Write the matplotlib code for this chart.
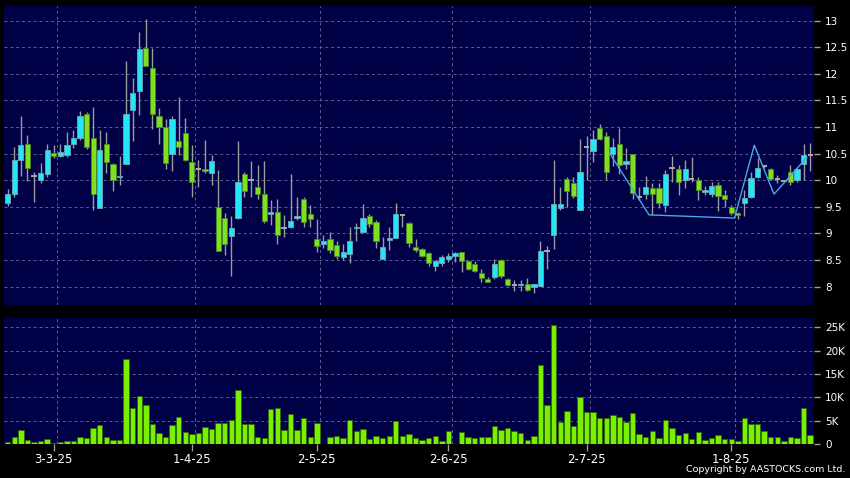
import matplotlib
matplotlib.use('Agg')
import matplotlib.pyplot as plt
import numpy as np
import pandas as pd

# ---------------- data ----------------
holidays = pd.to_datetime(['2025-04-04', '2025-04-18', '2025-04-21',
                           '2025-05-01', '2025-05-05', '2025-07-01'])
dates = pd.bdate_range('2025-02-20', '2025-08-19')
dates = dates[~dates.isin(holidays)]

open_ = [9.57, 9.74, 10.39, 10.68, 10.09, 10.00, 10.12, 10.52, 10.45, 10.47,
         10.68, 10.79, 11.25, 10.79, 9.47, 10.68, 10.31, 10.06, 10.30, 11.33,
         11.68, 12.49, 12.12, 11.21, 11.01, 10.49, 10.73, 10.88, 10.34, 10.22,
         10.22, 10.13, 9.50, 9.30, 8.95, 9.30, 10.11, 10.00, 9.88, 9.75,
         9.37, 9.41, 9.11, 9.13, 9.29, 9.65, 9.36, 8.89, 8.80, 8.90,
         8.79, 8.56, 8.61, 9.10, 9.02, 9.33, 9.21, 8.53, 8.88, 8.91,
         9.35, 9.19, 8.75, 8.70, 8.64, 8.39, 8.44, 8.53, 8.58, 8.66,
         8.49, 8.42, 8.26, 8.15, 8.19, 8.51, 8.15, 8.04, 8.03, 8.05,
         8.00, 8.02, 8.68, 8.98, 9.47, 10.02, 9.95, 9.45, 10.63, 10.55,
         10.99, 10.84, 10.49, 10.69, 10.30, 10.49, 9.69, 9.74, 9.85, 9.85,
         9.53, 10.24, 10.21, 10.00, 10.02, 10.00, 9.78, 9.74, 9.91, 9.72,
         9.49, 9.38, 9.58, 9.68, 10.07, 10.26, 10.22, 10.02, 9.99, 10.16,
         10.00, 10.31, 10.48]
high = [9.83, 10.63, 11.20, 10.85, 10.16, 10.32, 10.69, 10.66, 10.68, 10.90,
        10.94, 11.30, 11.29, 11.37, 10.94, 10.90, 10.33, 10.46, 12.24, 11.92,
        12.79, 13.03, 12.48, 11.36, 11.16, 11.20, 11.57, 11.18, 10.66, 10.38,
        10.76, 10.47, 10.19, 9.38, 9.33, 10.74, 10.15, 10.37, 10.29, 10.36,
        9.63, 9.64, 9.35, 10.12, 9.69, 9.69, 9.53, 9.28, 8.97, 9.02,
        8.86, 8.80, 9.12, 9.19, 9.55, 9.36, 9.25, 8.94, 9.12, 9.57,
        9.35, 9.22, 8.89, 8.72, 8.66, 8.50, 8.59, 8.64, 8.66, 8.66,
        8.51, 8.49, 8.34, 8.18, 8.53, 8.53, 8.17, 8.13, 8.13, 8.17,
        8.06, 8.86, 8.76, 10.38, 9.87, 10.06, 10.07, 10.77, 10.83, 10.94,
        11.05, 10.91, 10.79, 10.99, 10.60, 10.49, 9.88, 10.08, 9.95, 9.95,
        10.20, 10.46, 10.29, 10.39, 10.44, 10.07, 9.89, 9.97, 9.97, 9.82,
        9.53, 9.41, 9.82, 10.15, 10.41, 10.29, 10.23, 10.10, 10.00, 10.29,
        10.24, 10.68, 10.71]
low = [9.52, 9.69, 10.08, 9.99, 9.59, 9.955, 10.07, 10.41, 10.43, 10.43,
       10.61, 10.76, 10.59, 9.45, 9.47, 10.13, 9.80, 9.91, 10.30, 10.74,
       11.23, 12.14, 10.96, 10.69, 10.22, 10.18, 10.47, 10.36, 9.69, 9.88,
       10.13, 9.91, 8.67, 8.60, 8.20, 9.28, 9.69, 9.69, 9.65, 9.19,
       9.16, 8.80, 8.94, 9.10, 9.25, 9.12, 9.13, 8.66, 8.72, 8.63,
       8.53, 8.51, 8.45, 8.85, 9.00, 9.13, 8.72, 8.53, 8.69, 8.91,
       9.13, 8.75, 8.66, 8.55, 8.39, 8.30, 8.39, 8.46, 8.46, 8.28,
       8.32, 8.28, 8.08, 8.08, 8.14, 8.17, 8.01, 7.91, 7.91, 7.92,
       7.89, 8.02, 8.33, 8.70, 9.45, 9.49, 9.66, 9.45, 10.00, 10.35,
       10.76, 10.00, 10.26, 10.12, 10.22, 9.64, 9.63, 9.64, 9.35, 9.47,
       9.40, 9.97, 9.72, 9.86, 9.97, 9.63, 9.72, 9.69, 9.43, 9.50,
       9.35, 9.28, 9.32, 9.66, 10.04, 10.23, 10.00, 9.94, 9.96, 9.91,
       9.97, 10.00, 10.17]
close = [9.74, 10.39, 10.66, 10.24, 10.09, 10.13, 10.56, 10.45, 10.54, 10.67,
         10.79, 11.20, 10.62, 9.75, 10.56, 10.35, 10.01, 10.09, 11.24, 11.65,
         12.46, 12.14, 11.24, 11.01, 10.32, 11.16, 10.63, 10.39, 9.97, 10.22,
         10.18, 10.37, 8.67, 8.80, 9.10, 9.97, 9.80, 10.00, 9.75, 9.23,
         9.41, 8.97, 9.11, 9.23, 9.32, 9.22, 9.28, 8.76, 8.85, 8.69,
         8.58, 8.66, 8.85, 9.13, 9.30, 9.17, 8.86, 8.74, 8.91, 9.36,
         9.35, 8.83, 8.69, 8.58, 8.44, 8.49, 8.55, 8.58, 8.64, 8.49,
         8.34, 8.30, 8.16, 8.09, 8.42, 8.20, 8.04, 8.04, 8.06, 7.94,
         8.05, 8.68, 8.68, 9.55, 9.55, 9.79, 9.71, 10.15, 10.63, 10.77,
         10.77, 10.15, 10.63, 10.29, 10.36, 9.76, 9.69, 9.88, 9.74, 9.57,
         10.11, 10.24, 9.97, 10.22, 10.02, 9.82, 9.81, 9.90, 9.71, 9.64,
         9.38, 9.35, 9.66, 10.04, 10.24, 10.26, 10.02, 10.02, 9.99, 9.96,
         10.22, 10.48, 10.48]
volume_k = [0.5, 1.6, 3.1, 0.9, 0.5, 0.7, 1.1, 0.3, 0.5, 0.6,
            0.7, 1.6, 1.3, 3.4, 4.1, 1.6, 0.9, 0.8, 18.3, 7.7,
            10.3, 8.4, 4.2, 2.3, 1.5, 4.0, 5.7, 2.5, 2.2, 2.4,
            3.7, 3.2, 4.6, 4.4, 5.1, 11.6, 4.2, 4.2, 1.4, 1.2,
            7.4, 7.8, 2.9, 6.5, 3.0, 5.5, 1.4, 4.6, 0.1, 1.4,
            1.7, 1.2, 5.2, 2.7, 3.3, 1.1, 1.7, 1.3, 1.7, 5.0,
            1.7, 2.2, 1.2, 0.8,
            1.3, 1.7, 0.6, 2.7, 0.05, 2.5, 1.6, 1.3, 1.4, 1.6,
            3.9, 2.9, 3.4, 2.7, 2.4, 0.9, 1.7, 16.9, 8.3, 25.5,
            4.7, 7.1, 3.9, 10.1, 6.9, 6.8, 5.6, 5.6, 6.2, 5.7,
            4.8, 6.6, 2.2, 1.4, 2.7, 1.2, 5.2, 3.4, 1.9, 2.4,
            1.1, 2.6, 0.9, 1.2, 1.9, 1.1, 1.1, 0.6, 5.5, 4.3,
            4.2, 2.8, 1.4, 1.4, 0.7, 1.4, 1.2, 7.8, 2.0]

# overlay pattern line (bar position, price)
pattern_pos = [91.5, 97.5, 110.5, 113.5, 116.5, 121.5]
pattern_price = [10.51, 9.35, 9.29, 10.66, 9.74, 10.43]

tick_dates = pd.to_datetime(['2025-03-03', '2025-04-01', '2025-05-02',
                             '2025-06-02', '2025-07-02', '2025-08-01'])
tick_labels = ['3-3-25', '1-4-25', '2-5-25', '2-6-25', '2-7-25', '1-8-25']
price_ticks = [8, 8.5, 9, 9.5, 10, 10.5, 11, 11.5, 12, 12.5, 13]
vol_ticks_k = [0, 5, 10, 15, 20, 25]

# ---------------- styling ----------------
BG = '#000046'
UP = '#25e6f5'
DOWN = '#7ee021'
GRID = '#5e5e90'
WICK = '#9c9c9c'

o = np.array(open_); h = np.array(high); l = np.array(low); c = np.array(close)
v = np.array(volume_k) * 1000
x = np.arange(len(dates))
tick_idx = [int(np.where(dates == d)[0][0]) for d in tick_dates]

fig = plt.figure(figsize=(8.5, 4.78), dpi=100, facecolor='black')
ax = fig.add_axes([4/850, 1-305/478, 810/850, 299/478], facecolor=BG)
axv = fig.add_axes([4/850, 1-444/478, 810/850, 126/478], facecolor=BG)

xlim = (-0.56, 122.58)

# candles
ax.vlines(x, l, h, color=WICK, lw=1.0, zorder=2)
doji = o == c
up = (c > o)
dn = (c < o)
bw = 0.8
ax.bar(x[up], (c - o)[up], bottom=o[up], width=bw, color=UP,
       edgecolor='#6fa8b8', lw=0.6, zorder=3)
ax.bar(x[dn], (o - c)[dn], bottom=c[dn], width=bw, color=DOWN,
       edgecolor='#4c8a22', lw=0.6, zorder=3)
ax.hlines(o[doji], x[doji] - bw/2, x[doji] + bw/2, color='#b4b4b4', lw=1.3, zorder=3)

ax.plot(pattern_pos, pattern_price, color='#4ba6e6', lw=1.0, zorder=4)

ax.set_xlim(*xlim)
ax.set_ylim(7.656, 13.276)
ax.set_xticks([])
ax.yaxis.tick_right()
ax.set_yticks(price_ticks)
ax.set_yticklabels(['%g' % t for t in price_ticks])
ax.tick_params(axis='y', colors=WICK, labelcolor='white', length=4, width=1,
               pad=4, labelsize=7.5)
ax.yaxis.grid(True, color=GRID, linestyle=(0, (3, 3)), lw=0.7)
ax.set_axisbelow(True)

# volume
axv.bar(x, v, width=0.82, color='#78f000', edgecolor='#2e6400', lw=0.5, zorder=3)
axv.set_xlim(*xlim)
axv.set_ylim(0, 27000)
axv.yaxis.tick_right()
axv.set_yticks([t * 1000 for t in vol_ticks_k])
axv.set_yticklabels(['0' if t == 0 else '%dK' % t for t in vol_ticks_k])
axv.tick_params(axis='y', colors=WICK, labelcolor='white', length=4, width=1,
                pad=4, labelsize=7.5)
axv.set_xticks(tick_idx)
axv.set_xticklabels(tick_labels)
axv.tick_params(axis='x', colors=WICK, labelcolor='white', length=5, width=1,
                pad=1.5, labelsize=8.5)
axv.yaxis.grid(True, color=GRID, linestyle=(0, (3, 3)), lw=0.7)
axv.set_axisbelow(True)

for a in (ax, axv):
    for s in a.spines.values():
        s.set_visible(False)
    for ti in tick_idx:
        a.axvline(ti + 0.5, color=GRID, linestyle=(0, (3, 3)), lw=0.7, zorder=1)

fig.text(845/850, 1 - 470/478, 'Copyright by AASTOCKS.com Ltd.', ha='right',
         va='center', color='white', fontsize=6.8)

fig.savefig('out.png', dpi=100, facecolor='black')
